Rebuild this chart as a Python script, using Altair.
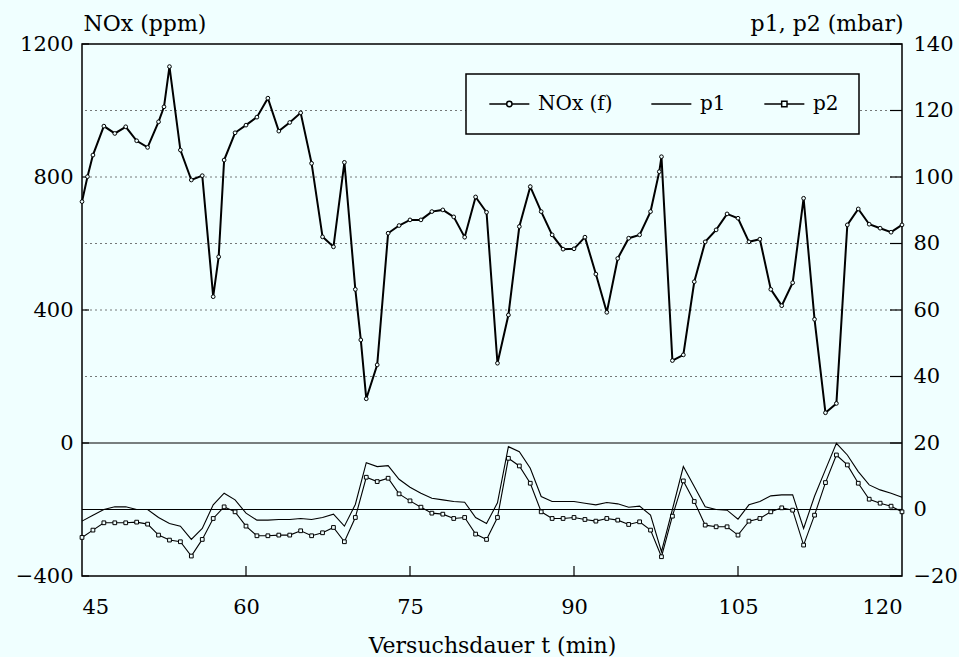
import altair as alt
import pandas as pd

FONT = "DejaVu Serif"
BG = "#f0ffff"

# ---------------- data ----------------
nox_t = [45, 45.5, 46, 47, 48, 49, 50, 51, 52, 52.5, 53, 54, 55, 56, 57, 57.5, 58, 59, 60,
         61, 62, 63, 64, 65, 66, 67, 68, 69, 70, 70.5, 71, 72, 73, 74, 75, 76, 77, 78, 79, 80,
         81, 82, 83, 84, 85, 86, 87, 88, 89, 90, 91, 92, 93, 94, 95, 96, 97, 97.8, 98, 99, 100,
         101, 102, 103, 104, 105, 106, 107, 108, 109, 110, 111, 112, 113, 114, 115, 116, 117,
         118, 119, 120]
nox_v = [726, 801, 866, 953, 931, 951, 909, 889, 966, 1011, 1132, 881, 791, 804, 440, 560, 851, 933, 956,
         980, 1037, 938, 964, 993, 841, 620, 590, 844, 462, 310, 133, 235, 631, 654, 671, 671, 696, 701, 680, 619,
         740, 694, 240, 385, 651, 771, 696, 626, 583, 584, 619, 508, 393, 555, 616, 626, 696, 816, 861, 248, 265,
         485, 605, 641, 689, 676, 605, 613, 462, 413, 482, 736, 372, 91, 119, 656, 704, 658,
         646, 634, 656]

p_t = list(range(45, 121))
p1 = [-3.5, -1.7, 0.0, 0.8, 0.8, 0.0, 0.0, -2.4, -4.2, -5.0, -9.0, -5.7, 1.4, 4.9, 2.9, -1.1,
      -3.2, -3.2, -3.0, -3.0, -2.7, -3.0, -2.4, -1.4, -5.0, 1.5, 14.1, 12.9, 13.2, 9.1, 6.7,
      4.9, 3.4, 2.9, 2.4, 2.2, -2.4, -4.2, 2.0, 18.9, 17.4, 12.4, 3.9, 2.4, 2.4, 2.4, 1.9, 1.4,
      2.1, 1.7, 0.7, 1.0, -1.7, -12.7, 0.0, 12.9, 6.9, 0.8, 0.0, -0.2, -2.9, 1.4, 2.4, 4.1,
      4.4, 4.4, -5.7, 4.0, 12.0, 19.9, 16.4, 11.4, 7.4, 5.9, 4.9, 3.7]
p2 = [-8.4, -6.2, -4.0, -4.0, -4.0, -3.8, -4.4, -7.7, -9.2, -9.7, -14.0, -9.0, -2.7, 0.8, -0.7,
      -5.0, -7.9, -7.9, -7.7, -7.7, -6.4, -7.9, -7.0, -5.4, -9.7, -2.4, 9.7, 8.4, 9.4, 4.7, 2.6,
      0.7, -1.1, -1.4, -2.7, -2.4, -7.4, -9.0, -2.4, 15.4, 13.1, 7.9, -0.7, -2.7, -2.7, -2.4,
      -3.0, -3.5, -2.7, -3.2, -4.5, -3.7, -6.2, -14.2, -2.0, 8.6, 2.4, -4.7, -5.2, -5.2, -7.7,
      -3.5, -2.7, -0.7, 0.5, -0.2, -10.7, -1.7, 8.1, 16.4, 13.4, 7.9, 3.1, 1.9, 1.0, -0.7]

x_ticks = [45, 60, 75, 90, 105, 120]
x_inner_ticks = [60, 75, 90, 105]
left_ticks = [-400, 0, 400, 800, 1200]
right_ticks = [-20, 0, 20, 40, 60, 80, 100, 120, 140]
grid_dotted = [200, 400, 600, 800, 1000]
grid_solid = [-200, 0]
series_names = ["NOx (f)", "p1", "p2"]

# ---------------- frames ----------------
nox_df = pd.DataFrame({"t": nox_t, "ppm": nox_v})
p_df = pd.concat([
    pd.DataFrame({"t": p_t, "mbar": p1, "series": "p1"}),
    pd.DataFrame({"t": p_t, "mbar": p2, "series": "p2"}),
])

W, H = 820, 532
xscale = alt.Scale(domain=[45, 120], nice=False, zero=False)
yl = alt.Scale(domain=[-400, 1200], nice=False, zero=False)
yr = alt.Scale(domain=[-20, 140], nice=False, zero=False)

x_axis = alt.Axis(values=x_ticks, title="Versuchsdauer t (min)", ticks=False, domain=False,
                  grid=False, format="d", labelPadding=20, titleY=76,
                  titleBaseline="alphabetic")
left_axis = alt.Axis(values=left_ticks, title="NOx (ppm)", orient="left", ticks=False,
                     domain=False, grid=False, format="d", labelPadding=9, titleAngle=0,
                     titleX=1, titleY=-14, titleAlign="left", titleBaseline="alphabetic")
right_axis = alt.Axis(values=right_ticks, title="p1, p2 (mbar)", orient="right", ticks=False,
                      domain=False, grid=False, format="d", labelPadding=11, titleAngle=0,
                      titleX=1, titleY=-14, titleAlign="right", titleBaseline="alphabetic")

grid = alt.Chart(pd.DataFrame({"ppm": grid_dotted})).mark_rule(
    color="#555555", strokeWidth=0.8, strokeDash=[2, 3]
).encode(y=alt.Y("ppm:Q", scale=yl, axis=left_axis))

solid = alt.Chart(pd.DataFrame({"ppm": grid_solid})).mark_rule(
    color="black", strokeWidth=1.2
).encode(y=alt.Y("ppm:Q"))

lticks = alt.Chart(pd.DataFrame({"ppm": left_ticks})).mark_rule(
    color="black", strokeWidth=1.2
).encode(y=alt.Y("ppm:Q"), x=alt.value(0), x2=alt.value(7))

xticks = alt.Chart(pd.DataFrame({"t": x_inner_ticks})).mark_rule(
    color="black", strokeWidth=1.2
).encode(x=alt.X("t:Q", scale=xscale, axis=x_axis), y=alt.value(H), y2=alt.value(H - 10))

nox_line = alt.Chart(nox_df).mark_line(color="black", strokeWidth=2).encode(
    x=alt.X("t:Q"), y=alt.Y("ppm:Q"))
nox_pts = alt.Chart(nox_df).mark_point(
    shape="circle", size=14, filled=True, fill=BG, stroke="black", strokeWidth=1, opacity=1
).encode(x=alt.X("t:Q"), y=alt.Y("ppm:Q"))

paths = [
    "M-1,0H1.6M2.4,0H5M1.6,0A0.4,0.4 0 1,0 2.4,0A0.4,0.4 0 1,0 1.6,0",
    "M-1,0H5",
    "M-1,0H1.6M2.4,0H5M1.6,-0.4H2.4V0.4H1.6Z",
]
legend_layer = alt.Chart(pd.DataFrame({"series": series_names})).mark_point(opacity=0).encode(
    shape=alt.Shape("series:N", scale=alt.Scale(domain=series_names, range=paths),
                    legend=alt.Legend(orient="none", legendX=384, legendY=30,
                                      direction="horizontal", title=None, symbolSize=178,
                                      symbolStrokeWidth=1.5, symbolStrokeColor="black",
                                      symbolFillColor=BG, symbolOpacity=1, labelFont=FONT,
                                      labelFontSize=20, labelColor="black", labelOffset=32,
                                      columnPadding=35, padding=20, strokeColor="black",
                                      fillColor=BG))
)

left = alt.layer(grid, solid, lticks, xticks, nox_line, nox_pts, legend_layer)

p1_line = alt.Chart(p_df).transform_filter(alt.datum.series == "p1").mark_line(
    color="black", strokeWidth=1.1
).encode(x=alt.X("t:Q"), y=alt.Y("mbar:Q", scale=yr, axis=right_axis))
p2_line = alt.Chart(p_df).transform_filter(alt.datum.series == "p2").mark_line(
    color="black", strokeWidth=1.1
).encode(x=alt.X("t:Q"), y=alt.Y("mbar:Q"))
p2_pts = alt.Chart(p_df).transform_filter(alt.datum.series == "p2").mark_point(
    shape="square", size=14, filled=True, fill=BG, stroke="black", strokeWidth=1, opacity=1
).encode(x=alt.X("t:Q"), y=alt.Y("mbar:Q"))
rticks = alt.Chart(pd.DataFrame({"mbar": right_ticks})).mark_rule(
    color="black", strokeWidth=1.2
).encode(y=alt.Y("mbar:Q"), x=alt.value(W), x2=alt.value(W - 12))

right = alt.layer(p1_line, p2_line, p2_pts, rticks)

chart = alt.layer(left, right).resolve_scale(y="independent").properties(
    width=W, height=H, background=BG,
    padding={"left": 82, "top": 44, "right": 57, "bottom": 81},
    autosize=alt.AutoSizeParams(type="none"),
).configure_view(stroke="black", strokeWidth=1.5).configure_axis(
    labelFont=FONT, labelFontSize=21, labelColor="black",
    titleFont=FONT, titleFontSize=22, titleFontWeight="normal", titleColor="black"
).configure_legend(strokeWidth=1.5)

chart.save("out.html", embed_options={"renderer": "svg", "actions": False})
